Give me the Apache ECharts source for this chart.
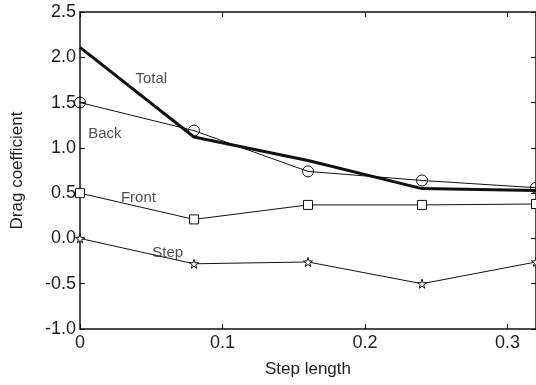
<!DOCTYPE html>
<html>
<head>
<meta charset="utf-8">
<script src="https://cdn.jsdelivr.net/npm/echarts@6/dist/echarts.min.js"></script>
<style>html,body{margin:0;padding:0;background:#fff;}#c{width:536px;height:385px;}</style>
</head>
<body>
<div id="c"></div>
<script>
var stepLength = [0, 0.08, 0.16, 0.24, 0.32];
var totalVals = [2.11, 1.12, 0.86, 0.55, 0.53];
var backVals = [1.50, 1.19, 0.74, 0.64, 0.56];
var frontVals = [0.50, 0.21, 0.37, 0.37, 0.38];
var stepVals = [0.00, -0.28, -0.26, -0.50, -0.26];
var seriesNames = ['Total', 'Back', 'Front', 'Step'];
var labelPos = [[0.050, 1.76], [0.0175, 1.15], [0.041, 0.45], [0.0615, -0.16]];
var xTicks = [0, 0.1, 0.2, 0.3];
var yTicks = [-1.0, -0.5, 0.0, 0.5, 1.0, 1.5, 2.0, 2.5];

var star = 'path://M50,0 L61,35 L98,35 L68,57 L79,91 L50,70 L21,91 L32,57 L2,35 L39,35 Z';
function pairs(vals){ return stepLength.map(function(x,i){ return [x, vals[i]]; }); }
var txt = '#1e1e1e';
var font = 'Liberation Sans, Arial, Helvetica, sans-serif';
var axisLineStyle = {show: true, onZero: false, lineStyle: {color: '#111', width: 1.5}};
var tickStyle = {show: true, inside: true, length: 5, lineStyle: {color: '#111'}};
var chart = echarts.init(document.getElementById('c'));
chart.setOption({
  animation: false,
  backgroundColor: '#fff',
  grid: {left: 80, top: 12, width: 457.6, height: 317, containLabel: false},
  xAxis: [{
    type: 'value', min: 0, max: 0.32, interval: 0.1, position: 'bottom',
    name: 'Step length', nameLocation: 'middle', nameGap: 32,
    nameTextStyle: {fontSize: 17, color: txt, fontFamily: font},
    axisLine: axisLineStyle, axisTick: tickStyle,
    axisLabel: {fontSize: 18, color: txt, fontFamily: font, showMaxLabel: false, margin: 5,
      formatter: function(v){ var r = Math.round(v*10)/10; return (Math.abs(v - r) < 1e-6 && xTicks.indexOf(r) >= 0) ? String(r) : ''; }},
    splitLine: {show: false}
  }, {
    type: 'value', min: 0, max: 0.32, interval: 0.1, position: 'top',
    axisLine: axisLineStyle, axisTick: tickStyle,
    axisLabel: {show: false}, splitLine: {show: false}
  }],
  yAxis: [{
    type: 'value', min: -1, max: 2.5, interval: 0.5, position: 'left',
    name: 'Drag coefficient', nameLocation: 'middle', nameGap: 54, nameRotate: 90,
    nameTextStyle: {fontSize: 17, color: txt, fontFamily: font},
    axisLine: axisLineStyle, axisTick: tickStyle,
    axisLabel: {fontSize: 18, color: txt, fontFamily: font, margin: 4,
      formatter: function(v){ return v.toFixed(1); }},
    splitLine: {show: false}
  }, {
    type: 'value', min: -1, max: 2.5, interval: 0.5, position: 'right',
    axisLine: axisLineStyle, axisTick: tickStyle,
    axisLabel: {show: false}, splitLine: {show: false}
  }],
  series: [
    {name: seriesNames[0], type: 'line', data: pairs(totalVals), showSymbol: false, symbol: 'none',
     lineStyle: {color: '#111', width: 3}, z: 3},
    {name: seriesNames[1], type: 'line', data: pairs(backVals), symbol: 'circle', symbolSize: 11,
     lineStyle: {color: '#111', width: 1}, itemStyle: {color: 'rgba(255,255,255,0)', borderColor: '#111', borderWidth: 1}},
    {name: seriesNames[2], type: 'line', data: pairs(frontVals), symbol: 'rect', symbolSize: 9,
     lineStyle: {color: '#111', width: 1}, itemStyle: {color: '#fff', borderColor: '#111', borderWidth: 1}},
    {name: seriesNames[3], type: 'line', data: pairs(stepVals), symbol: star, symbolSize: 9,
     lineStyle: {color: '#111', width: 1}, itemStyle: {color: '#fff', borderColor: '#111', borderWidth: 1}},
    {name: 'labels', type: 'scatter', symbolSize: 0, silent: true, z: 5,
     data: labelPos.map(function(p, i){ return {value: p, name: seriesNames[i]}; }),
     label: {show: true, position: 'inside', formatter: '{b}', fontSize: 15, color: txt, fontFamily: font}}
  ]
});
</script>
</body>
</html>
